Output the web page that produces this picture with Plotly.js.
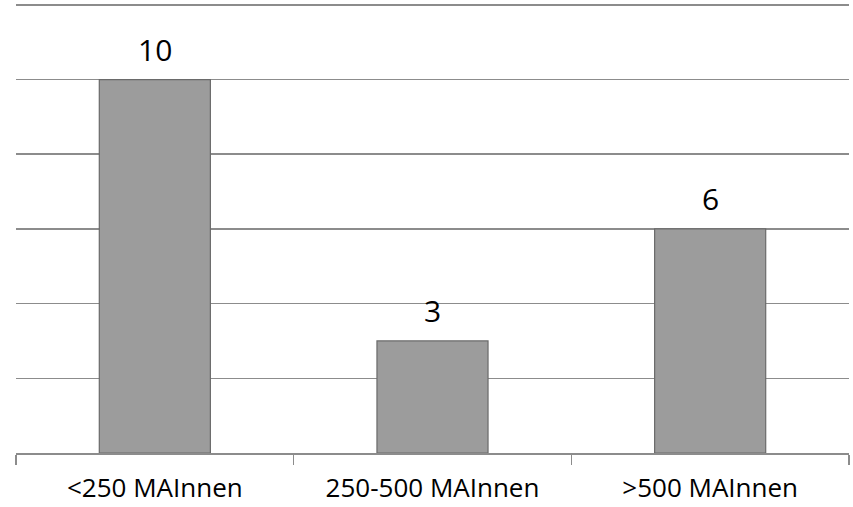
<!DOCTYPE html>
<html>
<head>
<meta charset="utf-8">
<script src="https://cdn.plot.ly/plotly-3.0.1.min.js"></script>
<style>html,body{margin:0;padding:0;background:#fff;}#chart{width:853px;height:507px;}</style>
</head>
<body>
<div id="chart"></div>
<script>
const categories = ['<250 MAInnen', '250-500 MAInnen', '>500 MAInnen'];
const values = [10, 3, 6];
const labels = ['10', '3', '6'];

const trace = {
  type: 'bar',
  x: categories,
  y: values,
  width: 0.4,
  marker: {
    color: '#9c9c9c',
    line: {color: '#6a6a6a', width: 1.2}
  },
  hoverinfo: 'none'
};

const annotations = categories.map((c, i) => ({
  x: c, y: values[i], text: labels[i],
  xref: 'x', yref: 'y',
  yanchor: 'bottom', showarrow: false, yshift: 8,
  font: {family: 'Open Sans, sans-serif', size: 30, color: '#000'}
}));

const layout = {
  width: 853, height: 507,
  margin: {l: 16, r: 4, t: 3, b: 54},
  paper_bgcolor: '#fff', plot_bgcolor: '#fff',
  showlegend: false,
  bargap: 0.6,
  xaxis: {
    type: 'category',
    showline: true, linecolor: '#8c8c8c', linewidth: 1.5,
    ticks: 'outside', tickson: 'boundaries', ticklen: 10, tickwidth: 1.5, tickcolor: '#8c8c8c',
    showgrid: false,
    ticklabelstandoff: 11,
    tickfont: {family: 'Open Sans, sans-serif', size: 26, color: '#000'}
  },
  yaxis: {
    range: [0, 12.05], dtick: 2, tick0: 0,
    showgrid: true, gridcolor: '#8c8c8c', gridwidth: 1.5,
    zeroline: false, showticklabels: false, ticks: '', showline: false,
    fixedrange: true
  },
  annotations: annotations
};

Plotly.newPlot('chart', [trace], layout, {displayModeBar: false, staticPlot: true});
</script>
</body>
</html>
